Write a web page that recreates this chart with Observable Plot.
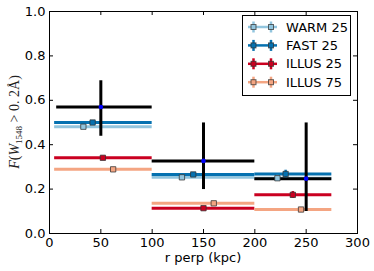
<!DOCTYPE html>
<html><head><meta charset="utf-8">
<script src="https://cdn.jsdelivr.net/npm/d3@7"></script>
<script src="https://cdn.jsdelivr.net/npm/@observablehq/plot@0.6"></script>
<style>body{margin:0;background:#fff}svg{display:block}</style>
</head><body><div id="chart"></div>
<script>
// Observed (black) points
const obsX = [50, 150, 250];
const obsY = [0.570, 0.327, 0.247];
const obsYLo = [0.438, 0.198, 0.099];
const obsYHi = [0.688, 0.498, 0.498];
const obsXLo = [7, 100, 200];
const obsXHi = [100, 200, 275];

// Model bins
const binLo = [5, 100, 200];
const binHi = [100, 200, 275];

// Models
const modelNames = ["WARM 25", "FAST 25", "ILLUS 25", "ILLUS 75"];
const modelColors = ["#92c5de", "#0571b0", "#ca0020", "#f4a582"];
const modelY = [
  [0.481, 0.253, 0.249],
  [0.500, 0.266, 0.268],
  [0.341, 0.114, 0.174],
  [0.289, 0.136, 0.108]
];
const modelX = [
  [33, 129, 222],
  [42, 140, 230],
  [52, 150, 237],
  [62, 160, 245]
];
const modelYErr = [
  [0.004, 0.004, 0.013],
  [0.004, 0.004, 0.017],
  [0.004, 0.004, 0.015],
  [0.004, 0.004, 0.008]
];

const xTicks = [0, 50, 100, 150, 200, 250, 300];
const yTicks = [0, 0.2, 0.4, 0.6, 0.8, 1.0];

const obs = obsX.map((x, i) => ({x, y: obsY[i], y1: obsYLo[i], y2: obsYHi[i], x1: obsXLo[i], x2: obsXHi[i]}));
const models = modelNames.map((name, m) => ({
  name, color: modelColors[m],
  rows: modelY[m].map((y, i) => ({y, x: modelX[m][i], lo: binLo[i], hi: binHi[i], e1: y - modelYErr[m][i], e2: y + modelYErr[m][i]}))
}));

const W = 374, H = 271;
const mL = 49, mR = 17, mT = 11, mB = 38;
const fw = W - mL - mR, fh = H - mT - mB;

const marks = [];
for (const md of models) {
  marks.push(Plot.ruleY(md.rows, {y: "y", x1: "lo", x2: "hi", stroke: md.color, strokeWidth: 3}));
}
marks.push(Plot.ruleY(obs, {y: "y", x1: "x1", x2: "x2", stroke: "black", strokeWidth: 3}));
marks.push(Plot.ruleX(obs, {x: "x", y1: "y1", y2: "y2", stroke: "black", strokeWidth: 3}));
for (const md of models) {
  marks.push(Plot.ruleX(md.rows, {x: "x", y1: "e1", y2: "e2", stroke: md.color, strokeWidth: 2.5}));
  marks.push(Plot.dot(md.rows, {x: "x", y: "y", symbol: "square", r: 3, fill: md.color, stroke: "#333", strokeOpacity: 0.75, strokeWidth: 1}));
}
marks.push(Plot.dot(obs, {x: "x", y: "y", r: 2.3, fill: "blue", stroke: "none"}));
// inward ticks on all four sides
marks.push(Plot.tickX(xTicks, {x: d => d, insetTop: fh - 4, stroke: "black"}));
marks.push(Plot.tickX(xTicks, {x: d => d, insetBottom: fh - 4, stroke: "black"}));
marks.push(Plot.tickY(yTicks, {y: d => d, insetRight: fw - 4, stroke: "black"}));
marks.push(Plot.tickY(yTicks, {y: d => d, insetLeft: fw - 4, stroke: "black"}));
marks.push(Plot.axisX(xTicks, {tickSize: 0, tickPadding: 4, fontSize: 13, label: null, fill: "black"}));
marks.push(Plot.axisY(yTicks, {tickSize: 0, tickPadding: 4, fontSize: 13, label: null, tickFormat: d3.format(".1f"), fill: "black"}));
marks.push(Plot.frame({stroke: "black", strokeWidth: 1}));

const plot = Plot.plot({
  width: W, height: H,
  marginLeft: mL, marginRight: mR, marginTop: mT, marginBottom: mB,
  style: {fontFamily: "DejaVu Sans", fontSize: "13px", background: "white", color: "black"},
  x: {domain: [0, 300]},
  y: {domain: [0, 1]},
  marks
});

const svg = d3.select(plot);
// x label
svg.append("text").attr("x", mL + fw / 2).attr("y", 262).attr("text-anchor", "middle")
  .attr("font-family", "DejaVu Sans").attr("font-size", 13).attr("fill", "black").text("r perp (kpc)");
// y label
const yl = svg.append("text").attr("transform", `translate(19,${mT + fh / 2}) rotate(-90)`)
  .attr("text-anchor", "middle").attr("font-family", "Liberation Serif").attr("font-size", 14).attr("fill", "#222");
yl.append("tspan").attr("font-style", "italic").text("F");
yl.append("tspan").text("(");
yl.append("tspan").attr("font-style", "italic").text("W");
yl.append("tspan").attr("font-size", 9).attr("dy", 3).text("1548");
yl.append("tspan").attr("dy", -3).text(" > 0. 2\u00C5)");

// legend
const lg = svg.append("g");
lg.append("rect").attr("x", 242.5).attr("y", 15.5).attr("width", 108).attr("height", 80)
  .attr("fill", "white").attr("stroke", "black").attr("stroke-width", 1);
models.forEach((md, i) => {
  const cy = 27 + i * 18.4;
  lg.append("line").attr("x1", 248).attr("x2", 277).attr("y1", cy).attr("y2", cy).attr("stroke", md.color).attr("stroke-width", 2.5);
  for (const mx of [253.5, 271]) {
    lg.append("line").attr("x1", mx).attr("x2", mx).attr("y1", cy - 5.5).attr("y2", cy + 5.5).attr("stroke", md.color).attr("stroke-width", 2.5);
    lg.append("rect").attr("x", mx - 2.5).attr("y", cy - 2.5).attr("width", 5).attr("height", 5)
      .attr("fill", md.color).attr("stroke", "#333").attr("stroke-opacity", 0.75);
  }
  lg.append("text").attr("x", 286).attr("y", cy).attr("dy", "0.36em").attr("text-anchor", "start")
    .attr("font-family", "DejaVu Sans").attr("font-size", 13).attr("fill", "black").text(md.name);
});

document.getElementById("chart").appendChild(plot);
</script>
</body></html>
